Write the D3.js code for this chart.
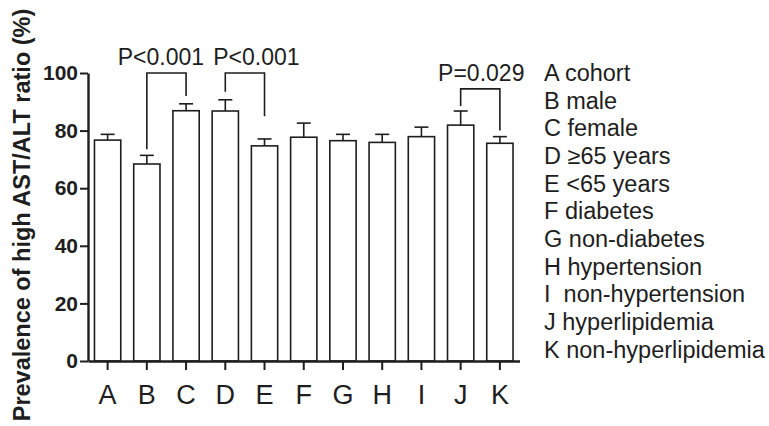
<!DOCTYPE html>
<html>
<head>
<meta charset="utf-8">
<script src="https://d3js.org/d3.v7.min.js"></script>
<style>
  html, body { margin: 0; padding: 0; background: #fff; }
  svg { display: block; font-family: "Liberation Sans", Arial, Helvetica, sans-serif; }
</style>
</head>
<body>
<svg id="chart" width="769" height="426"></svg>
<script>
// ---- data ----
const categories = ["A", "B", "C", "D", "E", "F", "G", "H", "I", "J", "K"];
const values     = [76.7, 68.4, 86.9, 86.8, 74.7, 77.7, 76.5, 75.9, 77.9, 81.9, 75.6];
const errorTops  = [78.7, 71.4, 89.3, 90.7, 77.1, 82.6, 78.7, 78.7, 81.2, 86.8, 77.9];
const yTicks     = [0, 20, 40, 60, 80, 100];
const legendLabels = ["A cohort", "B male", "C female", "D \u226565 years", "E <65 years",
  "F diabetes", "G non-diabetes", "H hypertension", "I  non-hypertension",
  "J hyperlipidemia", "K non-hyperlipidemia"];
const bracketFrom   = ["B", "D", "J"];
const bracketTo     = ["C", "E", "K"];
const bracketTop    = [100, 100, 94.5];
const bracketFromEnd = [73.5, 93.5, 88.5];
const bracketToEnd   = [92, 85, 80];
const bracketLabels = ["P<0.001", "P<0.001", "P=0.029"];
const yTitle = "Prevalence of high AST/ALT ratio (%)";

// ---- layout ----
const svg = d3.select("#chart");
const ink = "#1e1e1e";
const x = d3.scaleBand().domain(categories).range([88, 519.5]).paddingInner(0.33).paddingOuter(0.165);
const y = d3.scaleLinear().domain([0, 100]).range([361, 73]);

// bars
svg.append("g").selectAll("rect").data(categories).join("rect")
  .attr("x", d => x(d))
  .attr("y", (d, i) => y(values[i]))
  .attr("width", x.bandwidth())
  .attr("height", (d, i) => y(0) - y(values[i]))
  .attr("fill", "#fff").attr("stroke", ink).attr("stroke-width", 1.6);

// error bars
const eb = svg.append("g").attr("stroke", ink).attr("stroke-width", 1.6);
eb.selectAll("line.v").data(categories).join("line").attr("class", "v")
  .attr("x1", d => x(d) + x.bandwidth() / 2).attr("x2", d => x(d) + x.bandwidth() / 2)
  .attr("y1", (d, i) => y(values[i])).attr("y2", (d, i) => y(errorTops[i]));
eb.selectAll("line.c").data(categories).join("line").attr("class", "c")
  .attr("x1", d => x(d) + x.bandwidth() / 2 - 7).attr("x2", d => x(d) + x.bandwidth() / 2 + 7)
  .attr("y1", (d, i) => y(errorTops[i])).attr("y2", (d, i) => y(errorTops[i]));

// axes
const yAxis = svg.append("g").attr("transform", "translate(88,0)")
  .call(d3.axisLeft(y).tickValues(yTicks).tickSize(8).tickSizeOuter(0).tickPadding(2));
yAxis.selectAll("text").attr("font-size", 21).attr("font-weight", "bold").attr("fill", ink)
  .attr("font-family", "Liberation Sans, Arial, sans-serif");
yAxis.selectAll("line").attr("stroke", ink).attr("stroke-width", 2);
yAxis.select(".domain").attr("stroke", ink).attr("stroke-width", 2.4);

const xAxis = svg.append("g").attr("transform", "translate(0,361)")
  .call(d3.axisBottom(x).tickSize(9).tickSizeOuter(0).tickPadding(15));
xAxis.selectAll("text").attr("font-size", 27).attr("fill", ink)
  .attr("font-family", "Liberation Sans, Arial, sans-serif");
xAxis.selectAll("line").attr("stroke", ink).attr("stroke-width", 2);
xAxis.select(".domain").attr("stroke", ink).attr("stroke-width", 2.4);

// significance brackets
const labelShift = [-5.5, 11.5, 1];
const bg = svg.append("g");
bracketLabels.forEach((lab, i) => {
  const x1 = x(bracketFrom[i]) + x.bandwidth() / 2;
  const x2 = x(bracketTo[i]) + x.bandwidth() / 2;
  const yt = y(bracketTop[i]);
  bg.append("path")
    .attr("d", `M${x1},${y(bracketFromEnd[i])}V${yt}H${x2}V${y(bracketToEnd[i])}`)
    .attr("fill", "none").attr("stroke", ink).attr("stroke-width", 1.6);
  bg.append("text")
    .attr("x", (x1 + x2) / 2 + labelShift[i]).attr("y", yt - 8)
    .attr("text-anchor", "middle").attr("font-size", 23).attr("fill", ink)
    .text(lab);
});

// legend
svg.append("g").selectAll("text").data(legendLabels).join("text")
  .attr("x", 544).attr("y", (d, i) => 81 + i * 27.67)
  .attr("font-size", 23.5).attr("fill", ink)
  .style("white-space", "pre")
  .text(d => d);

// y title
svg.append("text")
  .attr("transform", "translate(30,215) rotate(-90)")
  .attr("text-anchor", "middle").attr("font-size", 23.5).attr("font-weight", "bold").attr("fill", ink)
  .text(yTitle);
</script>
</body>
</html>
